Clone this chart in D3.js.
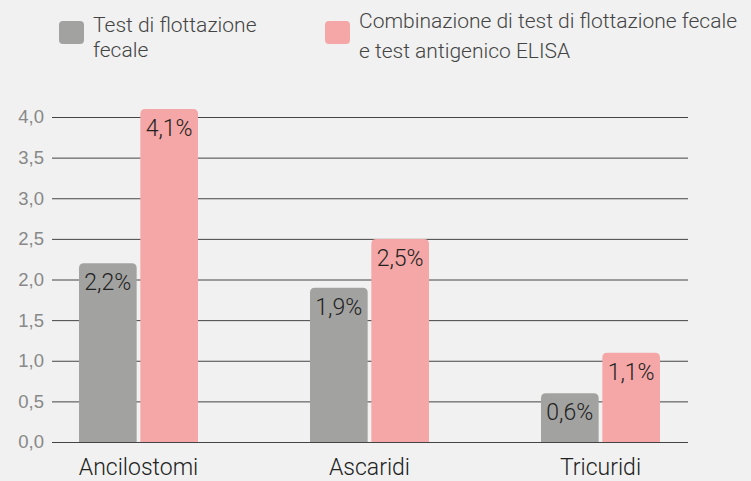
<!DOCTYPE html>
<html>
<head>
<meta charset="utf-8">
<script src="https://cdn.jsdelivr.net/npm/d3@7"></script>
<style>
  html, body { margin: 0; padding: 0; background: #f0f1f0; }
  svg { display: block; font-family: Roboto, "Noto Sans", sans-serif; }
</style>
</head>
<body>
<div id="chart"></div>
<script>
var categories = ["Ancilostomi", "Ascaridi", "Tricuridi"];
var seriesNames = ["Test di flottazione fecale", "Combinazione di test di flottazione fecale e test antigenico ELISA"];
var flottazione = [2.2, 1.9, 0.6];
var combinazione = [4.1, 2.5, 1.1];
var yTicks = [0, 0.5, 1, 1.5, 2, 2.5, 3, 3.5, 4];
var colors = ["#a2a3a1", "#f4a7a6"];

var width = 751, height = 481;

var svg = d3.select("#chart").append("svg")
    .attr("width", width)
    .attr("height", height);

svg.append("rect")
    .attr("width", width)
    .attr("height", height)
    .attr("fill", "#f0f1f0");

var y = d3.scaleLinear().domain([0, 4]).range([442, 117]);

var x0 = d3.scaleBand().domain(categories).range([23, 716]);
var groupW = 119;
var x1 = d3.scaleBand().domain([0, 1]).range([0, groupW]).paddingInner(0.06);

// griglia
var yAxis = d3.axisLeft(y)
    .tickValues(yTicks)
    .tickSize(-(688 - 52))
    .tickPadding(8)
    .tickFormat(function(d) { return d3.format(".1f")(d).replace(".", ","); });

var gy = svg.append("g")
    .attr("transform", "translate(52,0)")
    .call(yAxis);

gy.select(".domain").remove();
gy.selectAll(".tick line")
    .attr("stroke", "#444")
    .attr("stroke-width", 1);
gy.selectAll(".tick text")
    .attr("fill", "#888")
    .style("font-size", "18.5px")
    .style("font-weight", 300);

var data = categories.map(function(c, i) {
    return { cat: c, values: [flottazione[i], combinazione[i]] };
});

var groups = svg.selectAll(".group")
    .data(data)
    .enter().append("g")
    .attr("class", "group")
    .attr("transform", function(d) {
        return "translate(" + (x0(d.cat) + (x0.bandwidth() - groupW) / 2) + ",0)";
    });

groups.selectAll("path")
    .data(function(d) { return d.values.map(function(v, j) { return { v: v, j: j }; }); })
    .enter().append("path")
    .attr("fill", function(d) { return colors[d.j]; })
    .attr("d", function(d) {
        var bx = x1(d.j), bw = x1.bandwidth(), top = y(d.v), bottom = y(0), r = 5;
        return "M" + bx + "," + bottom +
            "V" + (top + r) +
            "Q" + bx + "," + top + " " + (bx + r) + "," + top +
            "H" + (bx + bw - r) +
            "Q" + (bx + bw) + "," + top + " " + (bx + bw) + "," + (top + r) +
            "V" + bottom + "Z";
    });

groups.selectAll(".val")
    .data(function(d) { return d.values.map(function(v, j) { return { v: v, j: j }; }); })
    .enter().append("text")
    .attr("class", "val")
    .attr("x", function(d) { return x1(d.j) + x1.bandwidth() / 2; })
    .attr("y", function(d) { return y(d.v) + 27; })
    .attr("text-anchor", "middle")
    .attr("fill", "#222")
    .style("font-size", "23px")
    .style("font-weight", 300)
    .text(function(d) { return d3.format(".1f")(d.v).replace(".", ",") + "%"; });

// etichette categorie
svg.selectAll(".cat")
    .data(categories)
    .enter().append("text")
    .attr("class", "cat")
    .attr("x", function(d) { return x0(d) + x0.bandwidth() / 2; })
    .attr("y", 475)
    .attr("text-anchor", "middle")
    .attr("fill", "#222")
    .style("font-size", "23px")
    .style("font-weight", 300)
    .text(function(d) { return d; });

// legenda
var legend = [
    { x: 59, lines: ["Test di flottazione", "fecale"], y0: 32, dy: 25 },
    { x: 325, lines: ["Combinazione di test di flottazione fecale", "e test antigenico ELISA"], y0: 28, dy: 30 }
];

var lg = svg.selectAll(".legend")
    .data(legend)
    .enter().append("g")
    .attr("class", "legend");

lg.append("rect")
    .attr("x", function(d) { return d.x; })
    .attr("y", 21)
    .attr("width", 25)
    .attr("height", 23)
    .attr("rx", 4)
    .attr("fill", function(d, i) { return colors[i]; });

lg.each(function(d) {
    var t = d3.select(this).append("text")
        .attr("fill", "#444")
        .style("font-size", "21px")
        .style("font-weight", 300);
    d.lines.forEach(function(line, k) {
        t.append("tspan")
            .attr("x", d.x + 34)
            .attr("y", d.y0 + k * d.dy)
            .text(line);
    });
});
</script>
</body>
</html>
